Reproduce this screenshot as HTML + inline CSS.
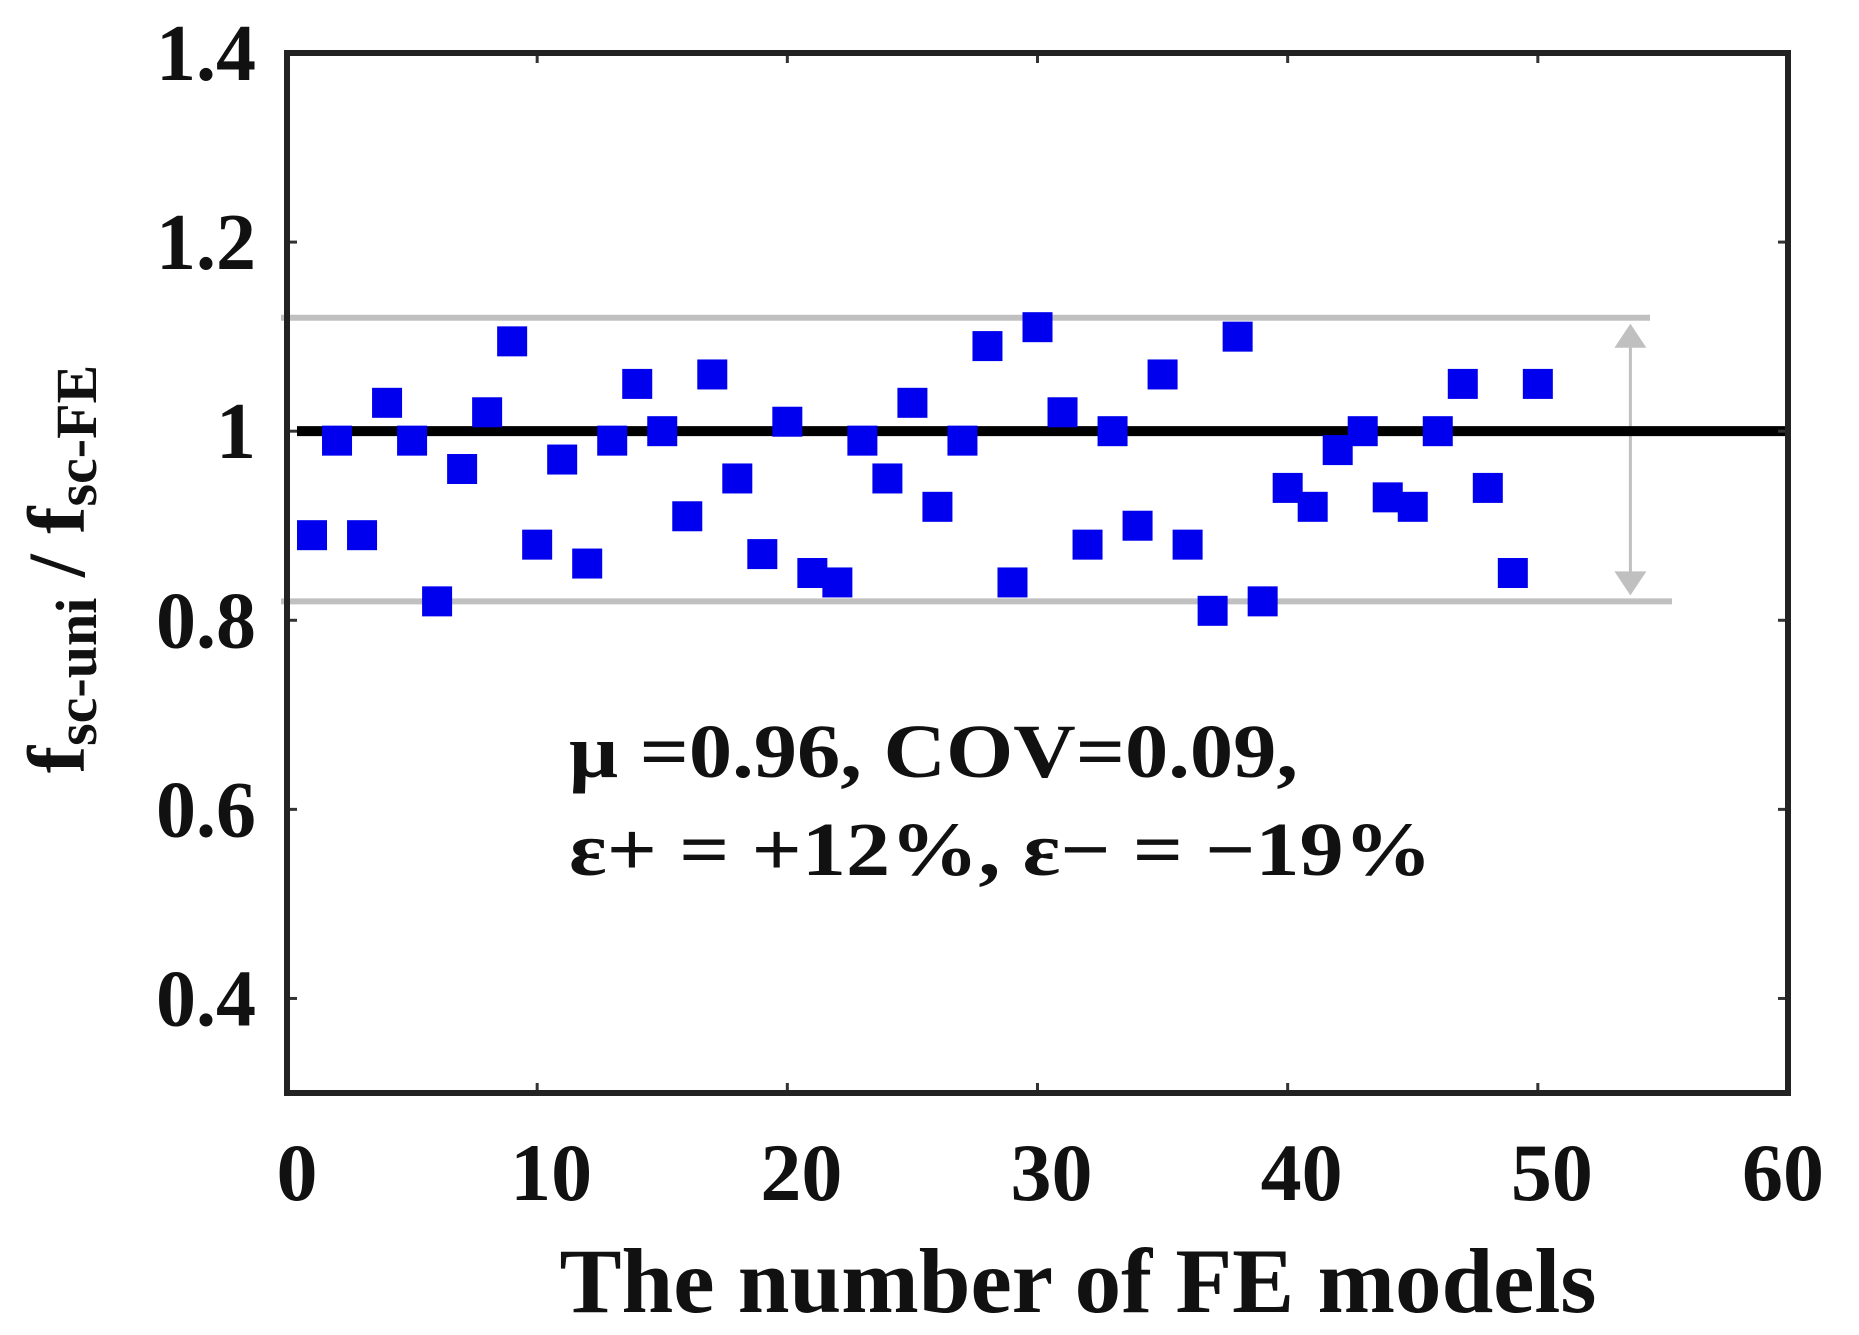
<!DOCTYPE html>
<html><head><meta charset="utf-8"><style>
html,body{margin:0;padding:0;background:#fff;width:1859px;height:1335px;overflow:hidden}
text{font-family:"Liberation Serif",serif;font-weight:bold;fill:#111}
</style></head><body>
<svg id="chart" width="1859" height="1335" viewBox="0 0 1859 1335" xmlns="http://www.w3.org/2000/svg"></svg>
<script>
const modelIndex=[1,2,3,4,5,6,7,8,9,10,11,12,13,14,15,16,17,18,19,20,21,22,23,24,25,26,27,28,29,30,31,32,33,34,35,36,37,38,39,40,41,42,43,44,45,46,47,48,49,50];
const ratioValues=[0.89,0.99,0.89,1.03,0.99,0.82,0.96,1.02,1.095,0.88,0.97,0.86,0.99,1.05,1.0,0.91,1.06,0.95,0.87,1.01,0.85,0.84,0.99,0.95,1.03,0.92,0.99,1.09,0.84,1.11,1.02,0.88,1.0,0.90,1.06,0.88,0.81,1.10,0.82,0.94,0.92,0.98,1.0,0.93,0.92,1.0,1.05,0.94,0.85,1.05];
const xTicks=[0,10,20,30,40,50,60];
const yTicks=[0.4,0.6,0.8,1,1.2,1.4];
const yTickLabels=["0.4","0.6","0.8","1","1.2","1.4"];
const boundUpper=1.12, boundLower=0.82, meanLine=1.0;

const L=287,R=1788,T=53,B=1093;
const X=v=>287+(v-0)*(1788-287)/60;
const Y=v=>53+(1.4-v)*(1093-53)/1.1;
const svg=document.getElementById('chart');
const NS='http://www.w3.org/2000/svg';
function mk(tag,attrs,parent){const e=document.createElementNS(NS,tag);for(const k in attrs)e.setAttribute(k,attrs[k]);(parent||svg).appendChild(e);return e;}

let e=mk('line',{x1:281,x2:1650,y1:Y(boundUpper),y2:Y(boundUpper),stroke:'#c0c0c0','stroke-width':6});


e=mk('line',{x1:281,x2:1672,y1:Y(boundLower),y2:Y(boundLower),stroke:'#c0c0c0','stroke-width':6});


const ax=X(53.7);
e=mk('g',{});


mk('line',{x1:ax,x2:ax,y1:Y(boundUpper)+8,y2:Y(boundLower)-8,stroke:'#c0c0c0','stroke-width':3},e);
mk('polygon',{points:`${ax},${Y(boundUpper)+6} ${ax-16},${Y(boundUpper)+30} ${ax+16},${Y(boundUpper)+30}`,fill:'#c0c0c0'},e);
mk('polygon',{points:`${ax},${Y(boundLower)-6} ${ax-16},${Y(boundLower)-30} ${ax+16},${Y(boundLower)-30}`,fill:'#c0c0c0'},e);
e=mk('line',{x1:X(0.4),x2:R,y1:Y(meanLine),y2:Y(meanLine),stroke:'#000','stroke-width':10});


modelIndex.forEach((m,i)=>{
  const p=mk('rect',{x:X(m)-15,y:Y(ratioValues[i])-15,width:30,height:30,fill:'#0000ee'});
  
  
});
xTicks.forEach(t=>{
  mk('line',{x1:X(t),x2:X(t),y1:B,y2:B-10,stroke:'#333','stroke-width':3});
  mk('line',{x1:X(t),x2:X(t),y1:T,y2:T+10,stroke:'#333','stroke-width':3});
  const tx=mk('text',{x:X(t)+(t===0?10:t===60?-5:14),y:1200,'font-size':82,'text-anchor':'middle'});
  tx.textContent=t;
  
  
});
yTicks.forEach((t,i)=>{
  mk('line',{x1:L,x2:L+10,y1:Y(t),y2:Y(t),stroke:'#333','stroke-width':3});
  mk('line',{x1:R,x2:R-10,y1:Y(t),y2:Y(t),stroke:'#333','stroke-width':3});
  const tx=mk('text',{x:256,y:Y(t)+27,'font-size':80,'text-anchor':'end'});
  tx.textContent=yTickLabels[i];
  
  
});
e=mk('rect',{x:L,y:T,width:R-L,height:B-T,fill:'none',stroke:'#222','stroke-width':6});


e=mk('text',{x:1078,y:1312,'font-size':92,'text-anchor':'middle',textLength:1037,lengthAdjust:'spacingAndGlyphs'});
e.textContent='The number of FE models';


e=mk('text',{transform:'translate(84,569) rotate(-90)','font-size':82,'text-anchor':'middle'});
e.innerHTML='f<tspan font-size="58" dy="12">sc-uni</tspan><tspan dy="-12"> / f</tspan><tspan font-size="58" dy="12">sc-FE</tspan>';


e=mk('text',{x:569,y:777,'font-size':76,textLength:729,lengthAdjust:'spacingAndGlyphs'});
e.textContent='μ =0.96, COV=0.09,';


e=mk('text',{x:569,y:875,'font-size':76,textLength:863,lengthAdjust:'spacingAndGlyphs'});
e.textContent='ε+ = +12%, ε− = −19%';


</script>
</body></html>
